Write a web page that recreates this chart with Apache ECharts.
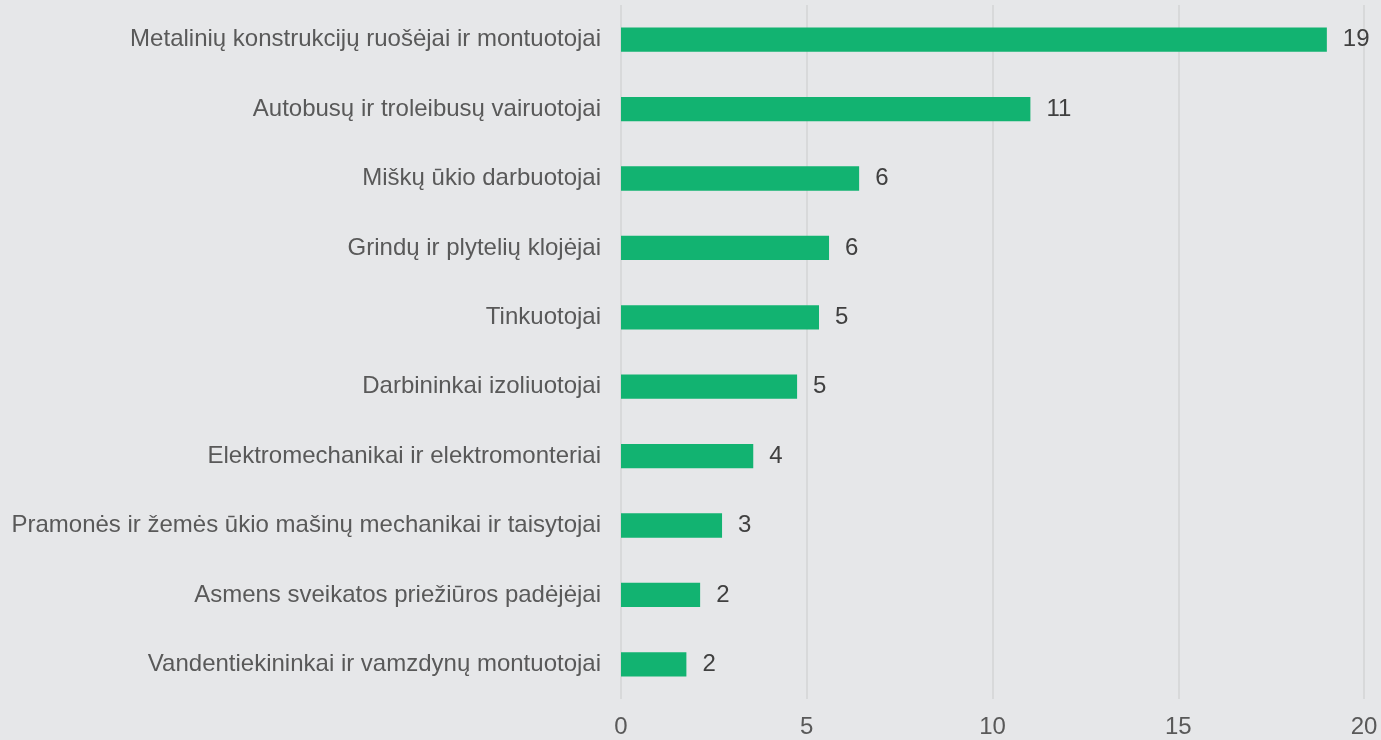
<!DOCTYPE html>
<html>
<head>
<meta charset="utf-8">
<script src="https://cdn.jsdelivr.net/npm/echarts@6/dist/echarts.min.js"></script>
<style>
  html, body { margin: 0; padding: 0; background: #e6e7e9; }
  #chart { width: 1381px; height: 740px; }
</style>
</head>
<body>
<div id="chart"></div>
<script>
// profesijos, iš viršaus į apačią
const categories = [
  "Metalinių konstrukcijų ruošėjai ir montuotojai",
  "Autobusų ir troleibusų vairuotojai",
  "Miškų ūkio darbuotojai",
  "Grindų ir plytelių klojėjai",
  "Tinkuotojai",
  "Darbininkai izoliuotojai",
  "Elektromechanikai ir elektromonteriai",
  "Pramonės ir žemės ūkio mašinų mechanikai ir taisytojai",
  "Asmens sveikatos priežiūros padėjėjai",
  "Vandentiekininkai ir vamzdynų montuotojai"
];
const values = [19.0, 11.02, 6.41, 5.6, 5.33, 4.74, 3.56, 2.72, 2.13, 1.76];
const xTicks = [0, 5, 10, 15, 20];

var chart = echarts.init(document.getElementById('chart'));
chart.setOption({
  backgroundColor: '#e6e7e9',
  animation: false,
  textStyle: { fontFamily: 'Liberation Sans, Arial, sans-serif' },
  grid: {
    left: 621,
    right: 17,
    top: 5,
    bottom: 41
  },
  xAxis: {
    type: 'value',
    min: xTicks[0],
    max: xTicks[xTicks.length - 1],
    interval: 5,
    axisLine: { show: false },
    axisTick: { show: false },
    axisLabel: {
      color: '#595959',
      fontSize: 24,
      margin: 16
    },
    splitLine: {
      lineStyle: { color: '#d3d4d5', width: 1.5 }
    }
  },
  yAxis: {
    type: 'category',
    inverse: true,
    data: categories,
    axisLine: { show: false },
    axisTick: { show: false },
    axisLabel: {
      color: '#595959',
      fontSize: 24,
      margin: 20
    }
  },
  series: [{
    type: 'bar',
    data: values,
    barWidth: '35%',
    itemStyle: { color: '#12b371' },
    label: {
      show: true,
      position: 'right',
      distance: 16,
      color: '#404040',
      fontSize: 24,
      formatter: function (p) { return Math.round(p.value); }
    }
  }]
});
</script>
</body>
</html>
